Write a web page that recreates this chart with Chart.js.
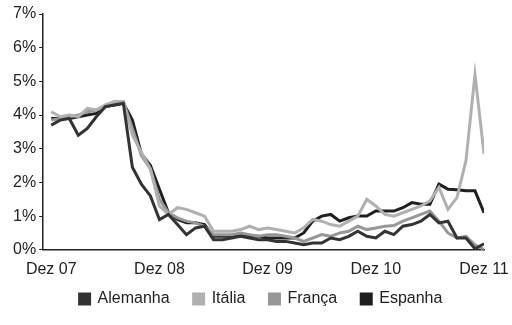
<!DOCTYPE html>
<html>
<head>
<meta charset="utf-8">
<script src="https://cdn.jsdelivr.net/npm/chart.js@4"></script>
<style>
  html, body { margin: 0; padding: 0; background: #fff; }
  #wrap { width: 512px; height: 325px; }
</style>
</head>
<body>
<div id="wrap"><canvas id="chart"></canvas></div>
<script>
// monthly, Dez 07 .. Dez 11
const months = [
  "Dez 07", "Jan 08", "Fev 08", "Mar 08", "Abr 08", "Mai 08", "Jun 08", "Jul 08", "Ago 08", "Set 08", "Out 08", "Nov 08",
  "Dez 08", "Jan 09", "Fev 09", "Mar 09", "Abr 09", "Mai 09", "Jun 09", "Jul 09", "Ago 09", "Set 09", "Out 09", "Nov 09",
  "Dez 09", "Jan 10", "Fev 10", "Mar 10", "Abr 10", "Mai 10", "Jun 10", "Jul 10", "Ago 10", "Set 10", "Out 10", "Nov 10",
  "Dez 10", "Jan 11", "Fev 11", "Mar 11", "Abr 11", "Mai 11", "Jun 11", "Jul 11", "Ago 11", "Set 11", "Out 11", "Nov 11",
  "Dez 11"
];
const shownTicks = ["Dez 07", "Dez 08", "Dez 09", "Dez 10", "Dez 11"];

const alemanha = [
  3.7, 3.85, 3.9, 3.4, 3.6, 3.95, 4.25, 4.3, 4.35, 2.45, 1.95, 1.6,
  0.9, 1.05, 0.75, 0.45, 0.65, 0.7, 0.3, 0.3, 0.35, 0.4, 0.35, 0.3,
  0.3, 0.25, 0.25, 0.2, 0.15, 0.2, 0.2, 0.35, 0.3, 0.4, 0.55, 0.4,
  0.35, 0.55, 0.45, 0.7, 0.75, 0.85, 1.05, 0.8, 0.85, 0.35, 0.35, 0.03,
  0.18
];
const italia = [
  4.1, 3.95, 4.0, 3.95, 4.2, 4.15, 4.3, 4.4, 4.4, 3.4, 2.9, 2.4,
  1.3, 1.05, 1.25, 1.2, 1.1, 1.0, 0.55, 0.55, 0.55, 0.6, 0.7, 0.6,
  0.65, 0.6, 0.55, 0.5, 0.65, 0.9, 0.85, 0.75, 0.7, 0.85, 1.0, 1.5,
  1.3, 1.05, 1.0, 1.1, 1.2, 1.3, 1.45, 1.85, 1.2, 1.55, 2.65, 5.2,
  2.85
];
const franca = [
  3.85, 3.9, 3.95, 4.0, 4.1, 4.15, 4.25, 4.35, 4.4, 3.6, 2.8, 2.4,
  1.5, 1.1, 0.95, 0.85, 0.8, 0.7, 0.45, 0.45, 0.45, 0.5, 0.45, 0.4,
  0.45, 0.45, 0.4, 0.35, 0.25, 0.35, 0.45, 0.4, 0.5, 0.55, 0.7, 0.6,
  0.65, 0.7, 0.72, 0.85, 0.95, 1.05, 1.15, 0.85, 0.5, 0.35, 0.4, 0.15,
  0.0
];
const espanha = [
  3.9, 3.9, 3.9, 3.95, 4.0, 4.05, 4.25, 4.3, 4.35, 3.85, 2.85, 2.5,
  1.8, 1.1, 0.9, 0.8, 0.8, 0.75, 0.4, 0.4, 0.4, 0.45, 0.4, 0.4,
  0.35, 0.35, 0.35, 0.35, 0.5, 0.85, 1.0, 1.05, 0.85, 0.95, 1.0, 1.0,
  1.15, 1.15, 1.15, 1.25, 1.4, 1.35, 1.35, 1.95, 1.8, 1.78, 1.75, 1.75,
  1.1
];

const seriesNames = ["Alemanha", "Itália", "França", "Espanha"];
const seriesColors = ["#333333", "#b0b0b0", "#979797", "#1f1f1f"];
const seriesData = [alemanha, italia, franca, espanha];

Chart.defaults.font.family = "'Liberation Sans', Arial, sans-serif";
Chart.defaults.font.size = 16;
Chart.defaults.color = "#222";

// pull the legend up a bit, closer to the axis labels, and re-center it
const legendUp = {
  id: "legendUp",
  afterLayout(chart) {
    const lg = chart.legend;
    lg.top -= 22;
    lg.bottom -= 22;
    lg.left += 14;
    lg.right += 14;
  }
};

new Chart(document.getElementById("chart"), {
  type: "line",
  data: {
    datasets: seriesData.map((d, i) => ({
      label: seriesNames[i],
      data: d.map((v, k) => ({ x: k, y: v })),
      borderColor: seriesColors[i],
      backgroundColor: seriesColors[i],
      borderWidth: 3,
      pointRadius: 0,
      tension: 0,
      fill: false
    }))
  },
  plugins: [legendUp],
  options: {
    responsive: true,
    maintainAspectRatio: false,
    animation: false,
    layout: { padding: { left: 10, right: 28, top: 14, bottom: -14 } },
    plugins: {
      tooltip: { enabled: false },
      legend: {
        position: "bottom",
        labels: {
          boxWidth: 10,
          boxHeight: 10,
          padding: 24,
          font: { size: 16 },
          color: "#222"
        }
      }
    },
    scales: {
      x: {
        type: "linear",
        min: -0.9,
        max: months.length - 1,
        grid: { display: false, drawTicks: false },
        border: { display: true, color: "#222", width: 1.5 },
        afterBuildTicks: scale => {
          scale.ticks = shownTicks.map(t => ({ value: months.indexOf(t) }));
        },
        // let the last label hang over into the right padding
        afterFit: scale => { scale.paddingRight = 0; },
        ticks: {
          autoSkip: false,
          maxRotation: 0,
          padding: 10,
          callback: v => months[v]
        }
      },
      y: {
        min: 0,
        max: 7,
        grid: { display: true, drawOnChartArea: false, drawTicks: true, tickLength: 4, color: "#222" },
        border: { display: true, color: "#222", width: 1.5 },
        ticks: {
          stepSize: 1,
          padding: 3,
          callback: v => v + "%"
        }
      }
    }
  }
});
</script>
</body>
</html>
